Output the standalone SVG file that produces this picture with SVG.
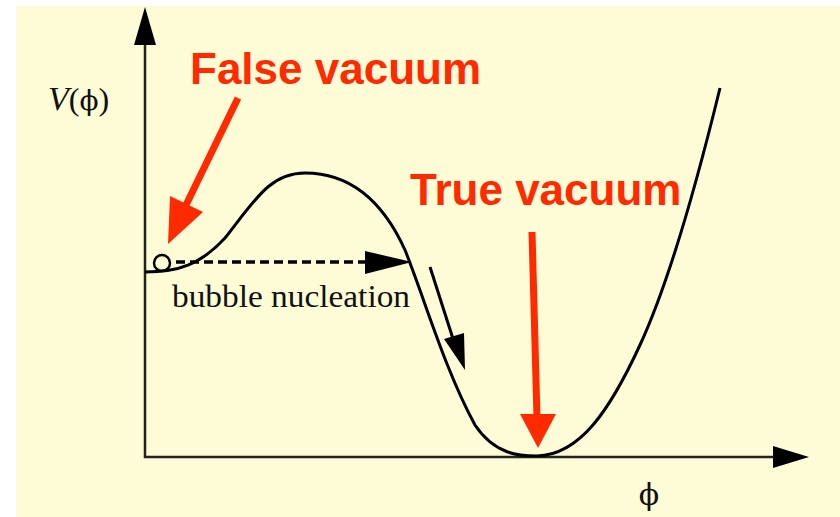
<svg xmlns="http://www.w3.org/2000/svg" width="840" height="517" viewBox="0 0 840 517">
<style>
.ax{stroke:#222;stroke-width:2.5;fill:none}
.crv{stroke:#000;stroke-width:3;fill:none}
.blk{fill:#000}
.red{stroke:#FF2A00;stroke-width:7;fill:none}
.redf{fill:#FF2A00}
.lbl{font-family:"Liberation Sans",Arial,sans-serif;font-weight:bold;font-size:44px;fill:#FF2A00}
.ser{font-family:"Liberation Serif","Times New Roman",serif;fill:#111}
.phi{font-family:"DejaVu Serif",serif}
</style>
<rect x="0" y="0" width="840" height="517" fill="#fff"/>
<rect x="16" y="6" width="824" height="511" fill="#FEFCD6"/>
<g id="axes">
<path class="ax" d="M145,40 V457 H778"/>
<polygon class="blk" points="145,7 156,45 134,45"/>
<polygon class="blk" points="809,457 773,446 773,468"/>
</g>
<g id="curve">
<path class="crv" d="M145,272 C178,272 200,265 225,238 C255,200 270,173 305,173 C345,173 380,195 405,250 C425,300 445,370 475,425 C495,455 520,456 537,456 C580,455 610,410 640,345 C670,280 700,170 720,88"/>
</g>
<g id="ball">
<circle cx="162" cy="263" r="8" fill="none" stroke="#000" stroke-width="2.5"/>
</g>
<g id="connectors">
<line x1="176" y1="262" x2="368" y2="262" stroke="#000" stroke-width="3.5" stroke-dasharray="9,5"/>
<polygon class="blk" points="412,262 365,251 365,274"/>
<line x1="430" y1="267" x2="455" y2="345" stroke="#000" stroke-width="3"/>
<polygon class="blk" points="465,370 444,339 464,333"/>
<line class="red" x1="238" y1="98" x2="186" y2="205"/>
<polygon class="redf" points="168,244 170,196 203,212"/>
<line class="red" x1="532" y1="232" x2="537" y2="418"/>
<polygon class="redf" points="538,448 520,414 556,414"/>
</g>
<g id="false-vacuum"><text class="lbl" x="190" y="84">False vacuum</text></g>
<g id="true-vacuum"><text class="lbl" x="410" y="205">True vacuum</text></g>
<g id="labels">
<text class="ser" x="172" y="307" font-size="31" textLength="238" lengthAdjust="spacingAndGlyphs">bubble nucleation</text>
<text class="ser" x="48" y="110" font-size="34"><tspan font-style="italic">V</tspan><tspan font-size="32">(</tspan><tspan class="phi" font-size="28">ϕ</tspan><tspan font-size="32">)</tspan></text>
<text class="ser phi" x="649" y="505" font-size="30" text-anchor="middle">ϕ</text>
</g>
</svg>
